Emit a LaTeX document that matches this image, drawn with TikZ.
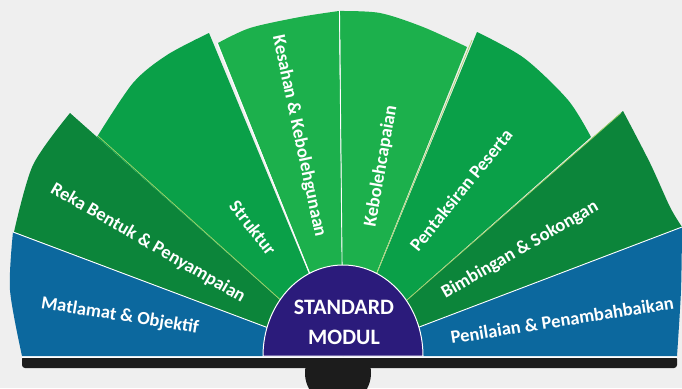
\documentclass[tikz,border=0pt]{standalone}
\usepackage{fontspec}
\setmainfont{Carlito}
\definecolor{bg}{HTML}{EFEFEF}
\definecolor{blueW}{HTML}{0C689E}
\definecolor{darkG}{HTML}{0C853A}
\definecolor{medG}{HTML}{0AA048}
\definecolor{lightG}{HTML}{1CB04C}
\definecolor{purp}{HTML}{2B1B7B}
\definecolor{barc}{HTML}{1C1C1C}
\definecolor{sepY}{HTML}{A8D46A}
\begin{document}
\begin{tikzpicture}[x=1pt,y=-1pt,
  lab/.style={text=white,font=\fontsize{18.5}{20}\selectfont\bfseries,inner sep=0pt},
  sepW/.style={draw=white,line width=0.9pt},
  sepL/.style={draw=sepY,line width=0.7pt}]
\fill[bg] (0,0) rectangle (682,388);
\useasboundingbox (0,0) rectangle (682,388);
\clip (0,0) rectangle (682,388);
\coordinate (C) at (343,356);
% knob and bar
\fill[barc] (338,373) circle[radius=33];
\fill[barc,rounded corners=3pt] (22,356) rectangle (677,368);
\fill[white] (22,355) rectangle (677,358.3);
% wedges
\fill[blueW] (C) -- (22,356) -- plot[smooth] coordinates {(22,356) (10,290) (13,232)} -- cycle;
\fill[darkG] (C) -- (14,232) -- plot[smooth] coordinates {(14,232) (33,165) (70,113)} -- cycle;
\fill[medG] (C) -- (97,137) -- plot[smooth] coordinates {(97,137) (133,83) (167,55) (209,33)} -- cycle;
\fill[lightG] (C) -- (218,43) -- plot[smooth] coordinates {(218,43) (250,28) (300,17) (339,11)} -- cycle;
\fill[lightG] (C) -- (340,11) -- plot[smooth] coordinates {(340,11) (380,13) (423,27) (467,47)} -- cycle;
\fill[medG] (C) -- (477,32) -- plot[smooth] coordinates {(477,32) (524,58) (568,100) (591,137)} -- cycle;
\fill[darkG] (C) -- (623,111) -- plot[smooth] coordinates {(623,111) (650,163) (670,207) (682,227)} -- cycle;
\fill[blueW] (C) -- (682,227) -- plot[smooth] coordinates {(682,227) (681,290) (677,356)} -- cycle;
% separators
\coordinate (s1) at (13,232);
\coordinate (s2) at (98,136);
\coordinate (s3) at (217,43);
\coordinate (s4) at (339.5,11);
\coordinate (s5) at (472,40);
\coordinate (s6) at (621,113);
\coordinate (s7) at (682,227);
\path[sepW] (s1) -- (C);
\path[sepL] (s2) -- (C);
\path[sepW] (s3) -- (C);
\path[sepW] (s4) -- (C);
\path[sepL] (s5) -- (C);
\path[sepL] (s6) -- (C);
\path[sepW] (s7) -- (C);
% centre
\fill[purp,draw=white,line width=1pt] (263,356) arc[start angle=180,end angle=360,x radius=80,y radius=91] -- cycle;
\node[text=white,font=\fontsize{22}{30}\selectfont\bfseries,align=center,inner sep=0pt] (sm) at (344,322) {STANDARD\\MODUL};
% labels
\node[lab,rotate=-9] (t1) at (120,316) {Matlamat \& Objektif};
\node[lab,rotate=-30] (t2) at (148,243) {Reka Bentuk \& Penyampaian};
\node[lab,rotate=-52] (t3) at (253,228) {Struktur};
\node[lab,rotate=-78] (t4) at (299,136) {Kesahan \& Kebolehgunaan};
\node[lab,rotate=80] (t5) at (381,166) {Kebolehcapaian};
\node[lab,rotate=51] (t6) at (461,190) {Pentaksiran Peserta};
\node[lab,rotate=30] (t7) at (520,250) {Bimbingan \& Sokongan};
\node[lab,rotate=9] (t8) at (562,320) {Penilaian \& Penambahbaikan};
\end{tikzpicture}
\end{document}
